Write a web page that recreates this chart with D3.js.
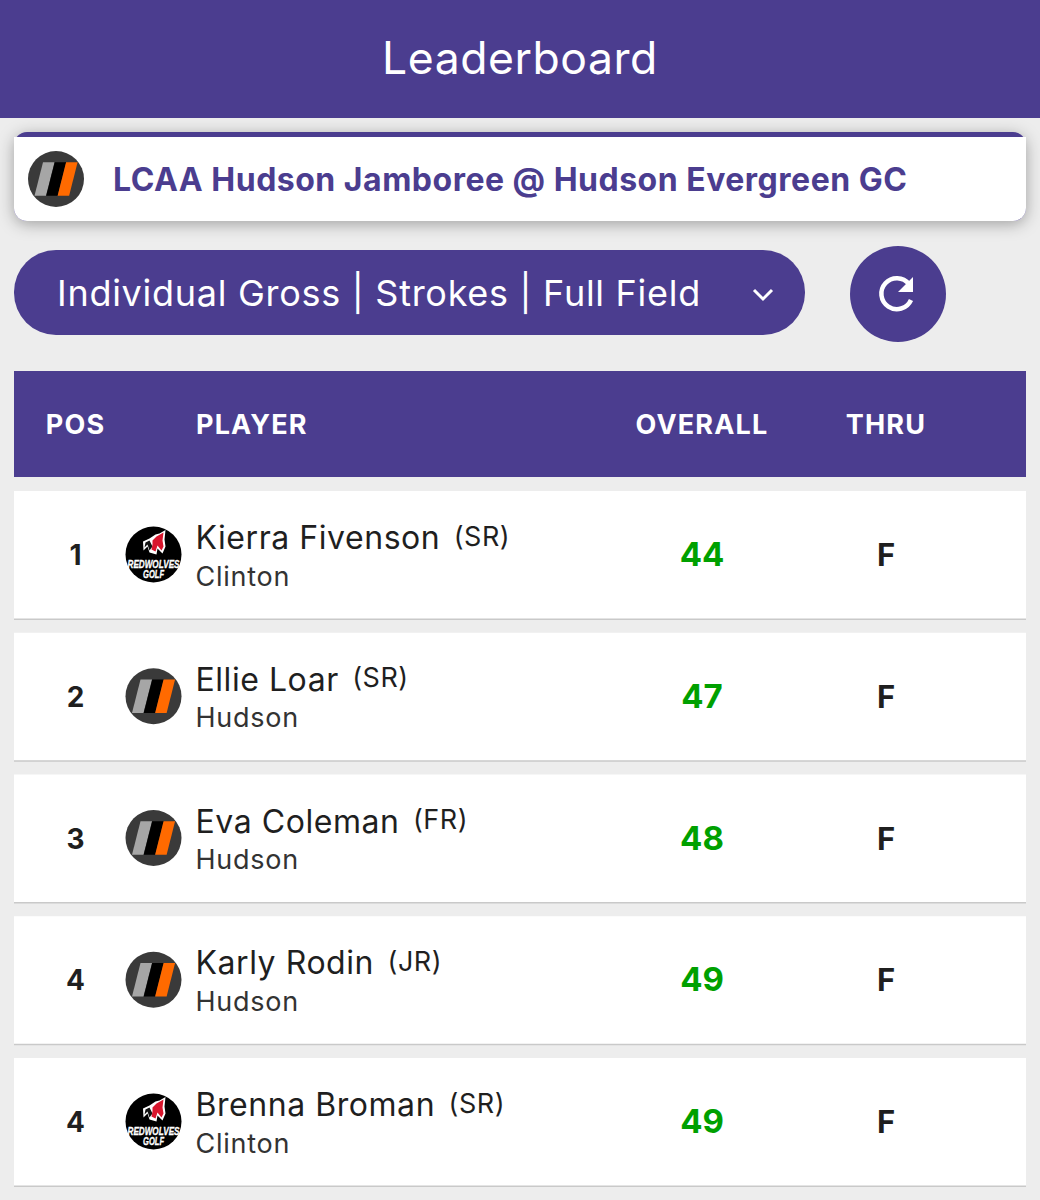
<!DOCTYPE html>
<html><head><meta charset="utf-8">
<script src="https://cdn.jsdelivr.net/npm/d3@7/dist/d3.min.js"></script>
<style>html,body{margin:0;padding:0;background:#ededed;overflow:hidden}svg{display:block}</style>
</head><body><div id="c"></div>
<script>
const title = "Leaderboard";
const eventName = "LCAA Hudson Jamboree @ Hudson Evergreen GC";
const filterLabel = "Individual Gross | Strokes | Full Field";
const columns = ["POS","PLAYER","OVERALL","THRU"];
const positions = [1,2,3,4,4];
const players = ["Kierra Fivenson","Ellie Loar","Eva Coleman","Karly Rodin","Brenna Broman"];
const years = ["(SR)","(SR)","(FR)","(JR)","(SR)"];
const teams = ["Clinton","Hudson","Hudson","Hudson","Clinton"];
const overall = [44,47,48,49,49];
const thru = ["F","F","F","F","F"];

const purple="#4b3d8f", ink="#1f1f1f", green="#00a000";
const W=1040,H=1200;
const svg=d3.select("#c").append("svg").attr("width",W).attr("height",H);
const defs=svg.append("defs");
const f=defs.append("filter").attr("id","sh").attr("x","-5%").attr("y","-40%").attr("width","110%").attr("height","180%");
f.append("feDropShadow").attr("dx",0).attr("dy",3).attr("stdDeviation",8).attr("flood-color","#000").attr("flood-opacity",.33);

svg.append("rect").attr("width",W).attr("height",H).attr("fill","#ededed");
svg.append("rect").attr("width",W).attr("height",118).attr("fill",purple);
svg.append("text").attr("x",520).attr("y",74).attr("text-anchor","middle").attr("font-family","Inter").attr("font-size",44.5).attr("letter-spacing",.55).attr("fill","#fff").text(title);

// event card
svg.append("rect").attr("x",14).attr("y",132).attr("width",1012).attr("height",89).attr("rx",13).attr("fill",purple).attr("filter","url(#sh)");
svg.append("path").attr("d","M14,137H1026V208a13,13 0 0 1 -13,13H27a13,13 0 0 1 -13,-13Z").attr("fill","#fff");
function hudsonLogo(g,cx,cy){
  const s=g.append("g").attr("transform",`translate(${cx},${cy})`);
  s.append("circle").attr("r",28).attr("fill","#3a3a3a");
  [["#a6a6a6",-21.5],["#000",-9.8],["#ff6a00",1.6]].forEach(([c,x])=>{
    s.append("path").attr("d",`M${x},16.7L${x+8.5},-16.7H${x+20}L${x+11.5},16.7Z`).attr("fill",c);
  });
}
function wolfLogo(g,cx,cy){
  const s=g.append("g").attr("transform",`translate(${cx},${cy})`);
  s.append("circle").attr("r",28).attr("fill","#000");
  s.append("path").attr("d","M-10.5,-13L-4,-16L2,-20L6,-21L12,-24.5L11,-15L12,-8L9,-1L4,-6L3,0L-4,-2L-6,-8L-10,-4Z").attr("fill","#fff");
  s.append("path").attr("d","M-8,-12L-4,-14L-1,-8L-4,-4L-6,-10L-9,-7Z").attr("fill","#111");
  s.append("path").attr("d","M-1,-14L3,-18L10,-22L9,-14L10,-8L8,-4L4,-9L2,-3L-2,-5L-1,-10Z").attr("fill","#d8152c");
  [["REDWOLVES",13,52],["GOLF",23,21]].forEach(([t,yy,w])=>{
    s.append("text").attr("x",-w/2).attr("y",yy).attr("textLength",w).attr("lengthAdjust","spacingAndGlyphs").attr("font-family","Liberation Sans Narrow,Liberation Sans").attr("font-style","italic").attr("font-weight",700).attr("font-size",10.5).attr("fill","#fff").attr("stroke","#fff").attr("stroke-width",.3).text(t);
  });
}
hudsonLogo(svg,56,179);
svg.append("text").attr("x",113).attr("y",191).attr("font-family","Inter").attr("font-weight",700).attr("font-size",32).attr("letter-spacing",.5).attr("fill",purple).text(eventName);

// filter + refresh
svg.append("rect").attr("x",14).attr("y",250).attr("width",791).attr("height",85).attr("rx",42).attr("fill",purple);
svg.append("text").attr("x",57).attr("y",306).attr("font-family","Inter").attr("font-size",36).attr("letter-spacing",.72).attr("fill","#fff").text(filterLabel);
svg.append("path").attr("d","M754,290L763,299L772,290").attr("fill","none").attr("stroke","#fff").attr("stroke-width",3);
svg.append("circle").attr("cx",898).attr("cy",294).attr("r",48).attr("fill",purple);
svg.append("path").attr("d","M909,284A15.5,15.5 0 1 0 911,300").attr("fill","none").attr("stroke","#fff").attr("stroke-width",4.5);
svg.append("path").attr("d","M913,277V292H898Z").attr("fill","#fff");

// header row
const colX={POS:75.5,PLAYER:196,OVERALL:702,THRU:886};
svg.append("rect").attr("x",14).attr("y",371).attr("width",1012).attr("height",106).attr("fill",purple);
svg.selectAll("text.h").data(columns).join("text").attr("class","h")
 .attr("x",d=>colX[d]).attr("y",434).attr("text-anchor",d=>d==="PLAYER"?"start":"middle")
 .attr("font-family","Inter").attr("font-weight",700).attr("font-size",27).attr("letter-spacing",1.15).attr("fill","#fff").text(d=>d);

// rows
const y=d3.scaleBand().domain(d3.range(players.length)).range([491,491+5*141.75]).paddingInner(0).paddingOuter(0);
const rows=svg.selectAll("g.r").data(players).join("g").attr("class","r").attr("transform",(d,i)=>`translate(0,${y(i)})`);
rows.append("rect").attr("x",14).attr("y",1).attr("width",1012).attr("height",128).attr("fill","#c9c9c9");
rows.append("rect").attr("x",14).attr("width",1012).attr("height",127.5).attr("fill","#fff");
rows.append("text").attr("x",75.5).attr("y",74).attr("text-anchor","middle").attr("font-family","Inter").attr("font-weight",700).attr("font-size",28).attr("fill",ink).text((d,i)=>positions[i]);
rows.each(function(d,i){ (teams[i]==="Hudson"?hudsonLogo:wolfLogo)(d3.select(this),153.5,63.5); });
rows.append("text").attr("class","n").attr("x",195.5).attr("y",58).attr("font-family","Inter").attr("font-size",32).attr("letter-spacing",.55).attr("fill",ink).text(d=>d);
rows.append("text").attr("x",195.5).attr("y",94.5).attr("font-family","Inter").attr("font-size",27).attr("letter-spacing",.75).attr("fill","#333").text((d,i)=>teams[i]);
rows.append("text").attr("y",54.5).attr("font-family","Inter").attr("font-size",27).attr("letter-spacing",.5).attr("fill",ink)
  .attr("x",function(d,i){return 196+this.parentNode.querySelector("text.n").getComputedTextLength()+13;}).text((d,i)=>years[i]);
rows.append("text").attr("x",702).attr("y",75).attr("text-anchor","middle").attr("font-family","Inter").attr("font-weight",700).attr("font-size",33).attr("fill",green).text((d,i)=>overall[i]);
rows.append("text").attr("x",886).attr("y",75).attr("text-anchor","middle").attr("font-family","Inter").attr("font-weight",700).attr("font-size",31).attr("fill",ink).text((d,i)=>thru[i]);
</script></body></html>
